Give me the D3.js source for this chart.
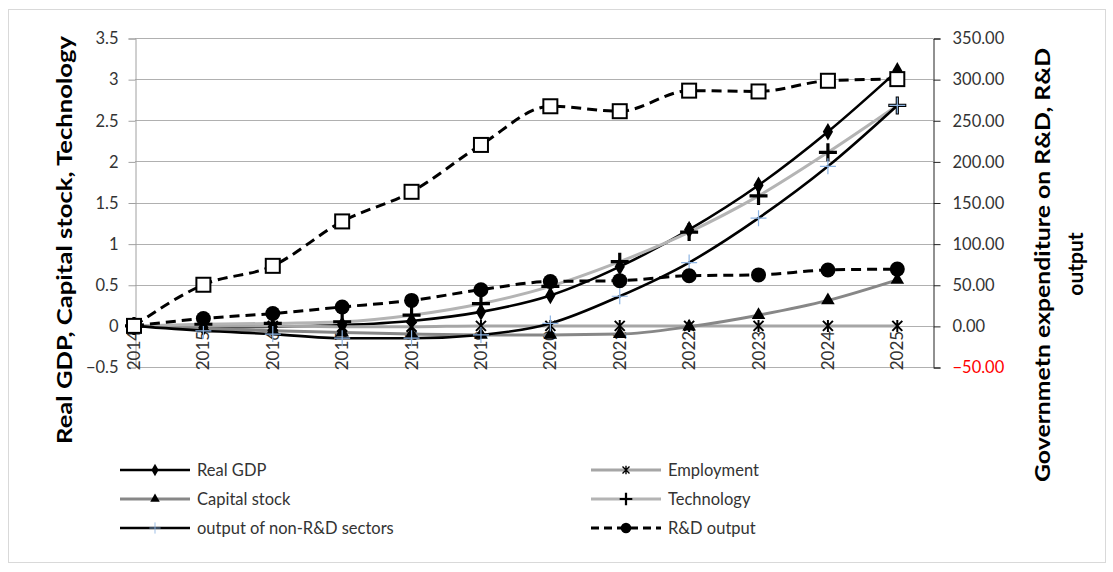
<!DOCTYPE html>
<html>
<head>
<meta charset="utf-8">
<script src="https://cdn.jsdelivr.net/npm/d3@7/dist/d3.min.js"></script>
<style>
  html, body { margin: 0; padding: 0; background: #ffffff; }
  svg { display: block; }
  text { font-family: Lato, "Noto Sans", sans-serif; }
</style>
</head>
<body>
<svg id="chart" width="1113" height="572"></svg>
<script>
// Years on the category axis
const years = [2014, 2015, 2016, 2017, 2018, 2019, 2020, 2021, 2022, 2023, 2024, 2025];

// Left-axis series
const realGDP     = [0, -0.02, -0.01, 0.01, 0.06, 0.17, 0.37, 0.72, 1.17, 1.71, 2.36, 3.10];
const employment  = [0, 0, 0, -0.01, -0.01, 0, 0, 0, 0, 0, 0, 0];
const capital     = [0, -0.03, -0.06, -0.08, -0.10, -0.11, -0.11, -0.10, -0.01, 0.13, 0.31, 0.56];
const technology  = [0, 0.02, 0.03, 0.05, 0.13, 0.27, 0.48, 0.78, 1.14, 1.58, 2.11, 2.68];
const nonRDOutput = [0, -0.06, -0.10, -0.15, -0.15, -0.11, 0.03, 0.36, 0.77, 1.31, 1.94, 2.68];

// Right-axis series
const rdOutput    = [0, 9, 15, 23, 31, 44, 54, 55, 61, 62, 68, 69];
const govRD       = [0, 50, 73, 127, 163, 220, 267, 261, 286, 285, 298, 300];

// Axis tick values
const leftTicks  = [-0.5, 0, 0.5, 1, 1.5, 2, 2.5, 3, 3.5];
const rightTicks = [-50, 0, 50, 100, 150, 200, 250, 300, 350];

const svg = d3.select("#chart");

// Plot area
const plotLeft = 135, plotRight = 933, plotTop = 38, plotBottom = 367;
const step = (plotRight - plotLeft) / 11.5;

const x = d3.scalePoint().domain(years).range([plotLeft - 1, plotLeft - 1 + 11 * step]);
const yL = d3.scaleLinear().domain([-0.5, 3.5]).range([plotBottom, plotTop]);
const yR = d3.scaleLinear().domain([-50, 350]).range([plotBottom, plotTop]);

// Outer frame
svg.append("rect")
  .attr("x", 8.5).attr("y", 9.5).attr("width", 1097).attr("height", 553)
  .attr("fill", "none").attr("stroke", "#d9d9d9").attr("stroke-width", 1);

// Horizontal gridlines
svg.append("g").selectAll("line").data(leftTicks).join("line")
  .attr("x1", plotLeft).attr("x2", plotRight)
  .attr("y1", d => Math.round(yL(d)) + 0.5).attr("y2", d => Math.round(yL(d)) + 0.5)
  .attr("stroke", "#b0b0b0").attr("stroke-width", 1);

// Left axis
const leftAxis = d3.axisLeft(yL).tickValues(leftTicks).tickSize(7).tickPadding(10)
  .tickFormat(d => d3.format("")(d));
const gL = svg.append("g").attr("transform", `translate(${plotLeft + 0.5},0.5)`).call(leftAxis);
gL.select(".domain").attr("stroke", "#a0a0a0");
gL.selectAll(".tick line").attr("stroke", "#a0a0a0");
gL.selectAll(".tick text").attr("font-size", 16.5).attr("fill", "#333").attr("font-family", "Lato, sans-serif");

// Right axis
const rightAxis = d3.axisRight(yR).tickValues(rightTicks).tickSize(7).tickPadding(12)
  .tickFormat(d3.format(".2f"));
const gR = svg.append("g").attr("transform", `translate(${plotRight + 0.5},0.5)`).call(rightAxis);
gR.select(".domain").attr("stroke", "#222");
gR.selectAll(".tick line").attr("stroke", "#222");
gR.selectAll(".tick text").attr("font-size", 16.5).attr("font-family", "Lato, sans-serif")
  .attr("fill", d => d < 0 ? "#ff0000" : "#333");

// Category labels, rotated, hanging below the zero line
svg.append("g").selectAll("text").data(years).join("text")
  .attr("transform", d => `translate(${x(d) + 6},${yL(0) + 5}) rotate(-90)`)
  .attr("text-anchor", "end")
  .attr("font-size", 17).attr("fill", "#333")
  .text(d => d);

// Axis titles
svg.append("text")
  .attr("transform", `translate(72,240) rotate(-90)`)
  .attr("text-anchor", "middle").attr("font-size", 21).attr("font-weight", 700).attr("fill", "#000")
  .attr("textLength", 408).attr("lengthAdjust", "spacingAndGlyphs")
  .text("Real GDP, Capital stock, Technology");
svg.append("text")
  .attr("transform", `translate(1050,265) rotate(-90)`)
  .attr("text-anchor", "middle").attr("font-size", 21).attr("font-weight", 700).attr("fill", "#000")
  .attr("textLength", 434).attr("lengthAdjust", "spacingAndGlyphs")
  .text("Governmetn expenditure on R&D, R&D");
svg.append("text")
  .attr("transform", `translate(1083,264) rotate(-90)`)
  .attr("text-anchor", "middle").attr("font-size", 21).attr("font-weight", 700).attr("fill", "#000")
  .text("output");

// Marker drawing helpers
function drawMarker(g, type) {
  switch (type) {
    case "diamond":
      g.append("path").attr("d", d3.symbol(d3.symbolDiamond, 90)()).attr("fill", "#000");
      break;
    case "triangle":
      g.append("path").attr("d", d3.symbol(d3.symbolTriangle, 80)()).attr("fill", "#000");
      break;
    case "star":
      g.append("path").attr("d", "M-5,-5L5,5M-5,5L5,-5M0,-6L0,6")
        .attr("stroke", "#000").attr("stroke-width", 2).attr("fill", "none");
      break;
    case "plus":
      g.append("path").attr("d", "M-9,0L9,0M0,-9L0,9")
        .attr("stroke", "#000").attr("stroke-width", 3.2).attr("fill", "none");
      break;
    case "thinplus":
      g.append("path").attr("d", "M-8,0L8,0M0,-8L0,8")
        .attr("stroke", "#8db4e2").attr("stroke-width", 1.2).attr("fill", "none");
      break;
    case "circle":
      g.append("circle").attr("r", 7.5).attr("fill", "#000");
      break;
    case "square":
      g.append("rect").attr("x", -7).attr("y", -7).attr("width", 14).attr("height", 14)
        .attr("fill", "#fff").attr("stroke", "#000").attr("stroke-width", 2);
      break;
  }
}

const series = [
  { name: "Real GDP", values: realGDP, scale: yL, color: "#000", width: 2.6, dash: null, marker: "diamond" },
  { name: "Employment", values: employment, scale: yL, color: "#a6a6a6", width: 3, dash: null, marker: "star" },
  { name: "Capital stock", values: capital, scale: yL, color: "#878787", width: 3, dash: null, marker: "triangle" },
  { name: "Technology", values: technology, scale: yL, color: "#b4b4b4", width: 3, dash: null, marker: "plus" },
  { name: "output of non-R&D sectors", values: nonRDOutput, scale: yL, color: "#000", width: 2.6, dash: null, marker: "thinplus" },
  { name: "R&D output", values: rdOutput, scale: yR, color: "#000", width: 3, dash: "10,6", marker: "circle" },
  { name: "Government expenditure on R&D", values: govRD, scale: yR, color: "#000", width: 3, dash: "10,6", marker: "square", noLegend: true }
];

const lineGen = s => d3.line()
  .x((d, i) => x(years[i]))
  .y(d => s.scale(d))
  .curve(d3.curveMonotoneX);

const plotG = svg.append("g");
series.forEach(s => {
  plotG.append("path")
    .datum(s.values)
    .attr("d", lineGen(s))
    .attr("fill", "none")
    .attr("stroke", s.color)
    .attr("stroke-width", s.width)
    .attr("stroke-dasharray", s.dash)
    .attr("stroke-linejoin", "round");
});
series.forEach(s => {
  s.values.forEach((v, i) => {
    const g = plotG.append("g").attr("transform", `translate(${x(years[i])},${s.scale(v)})`);
    drawMarker(g, s.marker);
  });
});

// Legend
const legendItems = series.filter(s => !s.noLegend);
const legendPos = [
  [120, 470], [591, 470],
  [120, 499], [591, 499],
  [120, 528], [591, 528]
];
const legendOrder = ["Real GDP", "Employment", "Capital stock", "Technology", "output of non-R&D sectors", "R&D output"];
legendOrder.forEach((name, k) => {
  const s = legendItems.find(d => d.name === name);
  const [lx, ly] = legendPos[k];
  const g = svg.append("g").attr("transform", `translate(${lx},${ly})`);
  g.append("line").attr("x1", 0).attr("x2", 70).attr("y1", 0).attr("y2", 0)
    .attr("stroke", s.color).attr("stroke-width", s.width)
    .attr("stroke-dasharray", s.dash ? "8,5" : null);
  const m = g.append("g").attr("transform", "translate(35,0) scale(0.7)");
  drawMarker(m, s.marker);
  g.append("text").attr("x", 77).attr("y", 0).attr("dy", "0.35em")
    .attr("font-size", 16.5).attr("fill", "#333").text(s.name);
});
</script>
</body>
</html>
